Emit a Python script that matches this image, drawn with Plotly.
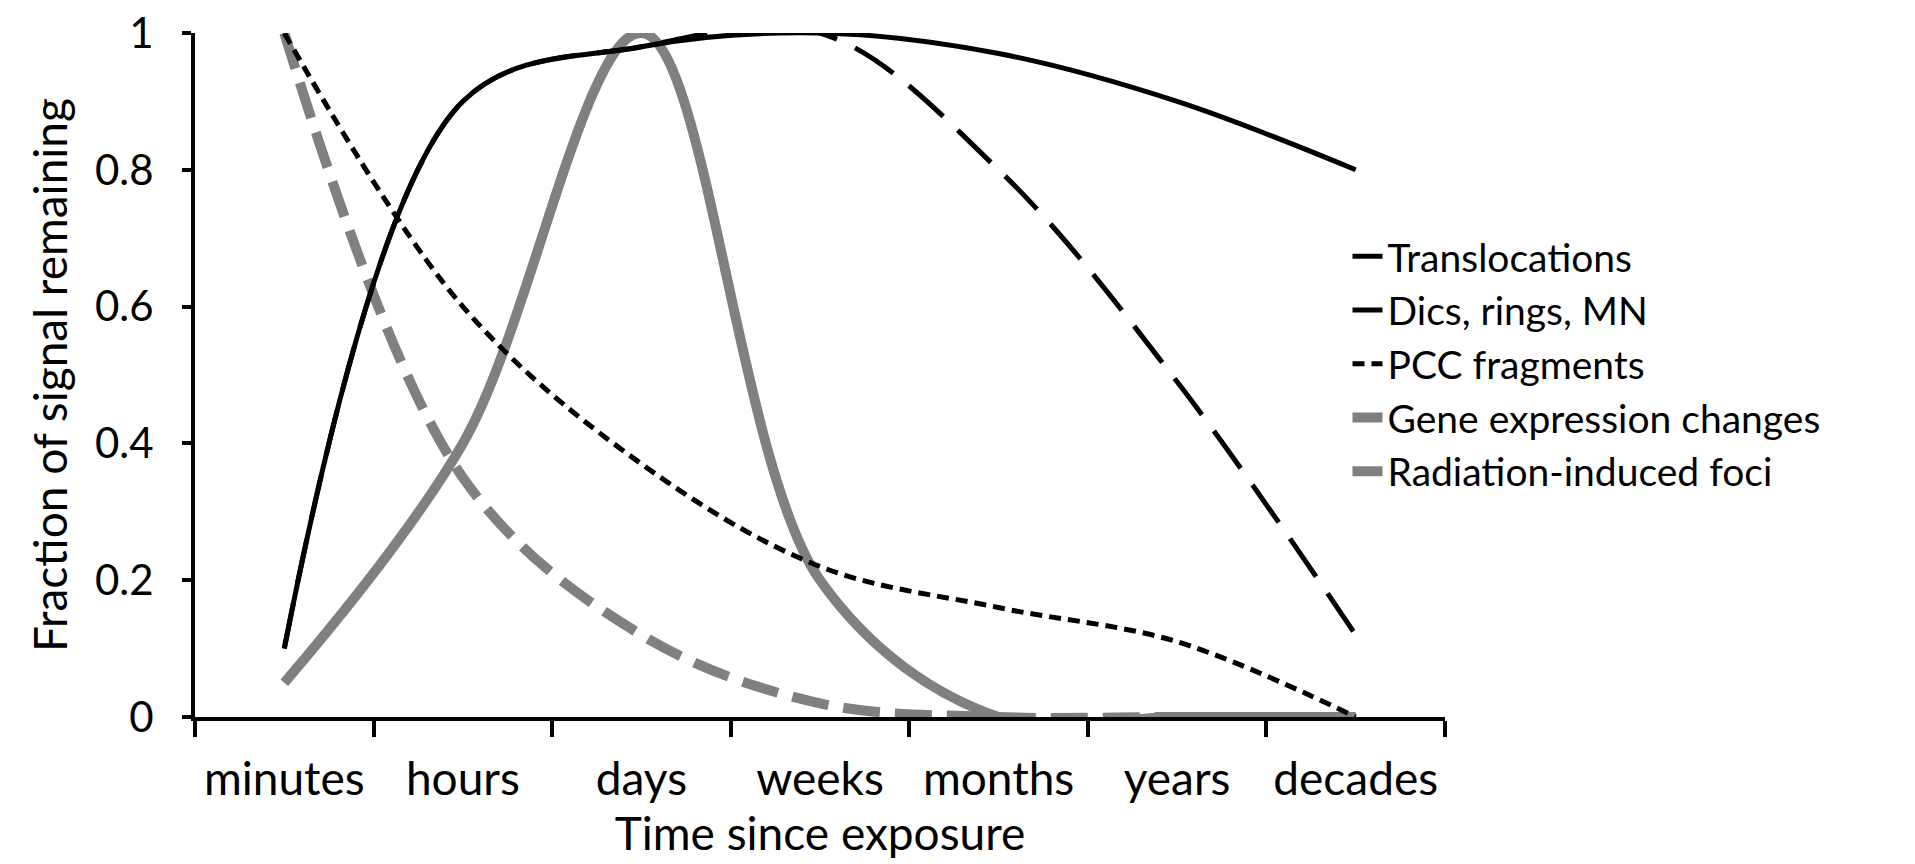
import plotly.graph_objects as go

categories = ["minutes", "hours", "days", "weeks", "months", "years", "decades"]
translocations = [0.10, 0.90, 0.98, 1.00, 0.97, 0.90, 0.80]
dics_rings_mn = [0.10, 0.90, 0.98, 1.00, 0.80, 0.49, 0.12]
pcc_fragments = [1.00, 0.60, 0.37, 0.22, 0.16, 0.11, 0.00]
gene_expression = [0.05, 0.40, 1.00, 0.20, 0.00, 0.00, 0.00]
radiation_foci = [1.00, 0.35, 0.12, 0.02, 0.00, 0.00, 0.00]
y_ticks = [0, 0.2, 0.4, 0.6, 0.8, 1]

FONT = "Lato"
FS = 46
fig = go.Figure()

def add(name, y, color, width, dash):
    fig.add_trace(go.Scatter(
        x=categories, y=y, name=name, mode="lines",
        line=dict(color=color, width=width, dash=dash, shape="spline", smoothing=1.0),
    ))

add("Radiation-induced foci", radiation_foci, "#808080", 10, "37px,15px")
add("Gene expression changes", gene_expression, "#808080", 10, "solid")
add("PCC fragments", pcc_fragments, "#000000", 5, "12px,7px")
add("Dics, rings, MN", dics_rings_mn, "#000000", 5, "46px,20px")
add("Translocations", translocations, "#000000", 5, "solid")

fig.update_layout(
    width=1915, height=864,
    margin=dict(l=187, r=478, t=25, b=155),
    paper_bgcolor="white", plot_bgcolor="white",
    font=dict(family=FONT, size=FS, color="black"),
    showlegend=True,
    legend=dict(
        x=0.922, y=0.72, xanchor="left", yanchor="top",
        bgcolor="rgba(0,0,0,0)", traceorder="reversed",
        font=dict(family=FONT, size=39, color="black"),
        itemwidth=30, tracegroupgap=0,
    ),
    xaxis=dict(
        type="category", range=[-0.5, 6.5], automargin=False,
        showline=True, linecolor="black", linewidth=4,
        ticks="outside", tickson="boundaries", ticklen=16, tickwidth=4, tickcolor="black",
        showgrid=False, zeroline=False, ticklabelstandoff=19,
        tickfont=dict(family=FONT, size=FS),
        title=dict(text="Time since exposure", font=dict(family=FONT, size=FS), standoff=6),
    ),
    yaxis=dict(
        range=[0, 1], tickvals=y_ticks, automargin=False, ticklabeloverflow="allow",
        showline=True, linecolor="black", linewidth=4,
        ticks="outside", ticklen=9, tickwidth=4, tickcolor="black",
        showgrid=False, zeroline=False, ticklabelstandoff=20,
        tickfont=dict(family=FONT, size=42),
        title=dict(text="Fraction of signal remaining", font=dict(family=FONT, size=FS), standoff=14),
    ),
)

fig.write_html("out.html")
